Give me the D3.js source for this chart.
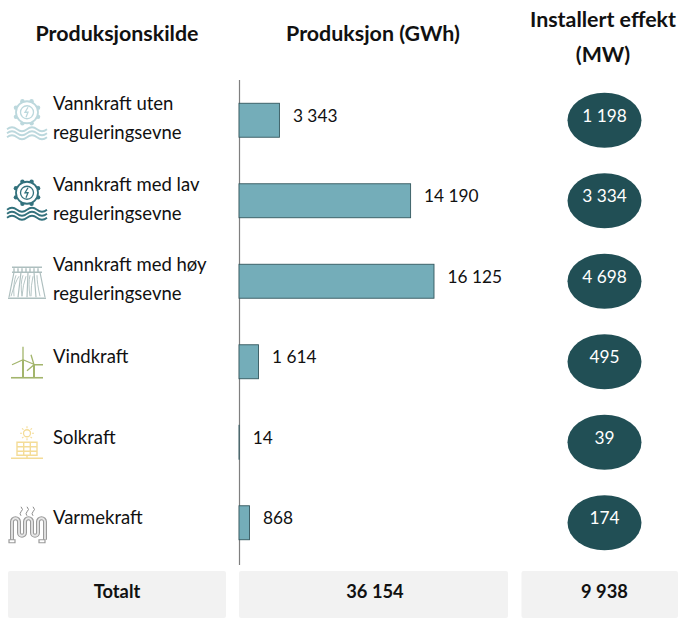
<!DOCTYPE html>
<html>
<head>
<meta charset="utf-8">
<script src="https://cdn.jsdelivr.net/npm/d3@7"></script>
<style>
  html, body { margin: 0; padding: 0; background: #fff; }
  svg { display: block; }
  text { font-family: Lato, "Open Sans", sans-serif; fill: #111; }
  .head { font-size: 21.4px; font-weight: 700; text-anchor: middle; }
  .lab { font-size: 17.3px; }
  .name { font-size: 18.5px; }
  .total { font-size: 18.3px; font-weight: 700; text-anchor: middle; }
</style>
</head>
<body>
<svg id="chart" width="678" height="618"></svg>
<script>
const sources = ["hydroLow", "hydroMed", "hydroHigh", "wind", "solar", "thermal"];
const sourceLines = [
  ["Vannkraft uten", "reguleringsevne"],
  ["Vannkraft med lav", "reguleringsevne"],
  ["Vannkraft med høy", "reguleringsevne"],
  ["Vindkraft"],
  ["Solkraft"],
  ["Varmekraft"]
];
const production = [3343, 14190, 16125, 1614, 14, 868];
const capacity = [1198, 3334, 4698, 495, 39, 174];
const totals = ["Totalt", "36 154", "9 938"];

const svg = d3.select("#chart");

const fmt = d => d3.format(",")(d).replace(/,/g, " ");

const y = d3.scaleBand()
            .domain(sources)
            .range([80, 563])
            .paddingInner(0.578)
            .paddingOuter(0.289);

const x = d3.scaleLinear()
            .domain([0, 16125])
            .range([239, 434]);

function waves(g, color, ys) {
  ys.forEach(v => {
    g.append("path")
        .attr("d", "M-20," + v + " q5,-4 10,0 t10,0 t10,0 t10,0")
        .attr("stroke", color)
        .attr("stroke-width", 1.7);
  });
}

function gear(g, color, cy) {
  for (let a = 0; a < 8; a++) {
    const t = a * Math.PI / 4 + Math.PI / 8;
    g.append("circle")
        .attr("cx", 12 * Math.cos(t))
        .attr("cy", cy + 12 * Math.sin(t))
        .attr("r", 2.2)
        .attr("fill", color);
  }
  g.append("circle").attr("cy", cy).attr("r", 11).attr("stroke", color).attr("stroke-width", 1.8).attr("fill", "#fff");
  g.append("circle").attr("cy", cy).attr("r", 6.5).attr("stroke", color).attr("stroke-width", 1.3);
  g.append("path")
      .attr("d", "M1," + (cy - 5) + " l-3,5 h3 l-2,5")
      .attr("stroke", color)
      .attr("stroke-width", 1.3);
}

function hydro(color) {
  return g => {
    gear(g, color, -8);
    waves(g, color, [9, 13, 17]);
  };
}

const icons = {
  hydroLow: hydro("#bcd8dd"),
  hydroMed: hydro("#33727d"),
  hydroHigh: g => {
    const c = "#aebfbf";
    g.append("path").attr("d", "M-15,-14 h30 M-15,-9 h30 M-13,-13 v4 M-9,-13 v4 M-5,-13 v4 M-1,-13 v4 M3,-13 v4 M7,-13 v4 M11,-13 v4 M-19,17 h38")
        .attr("stroke", c).attr("stroke-width", 1.4);
    g.append("path").attr("d", "M-13,-9 L-18,16 M13,-9 L18,16 M-6,-9 L-9,16 M1,-9 L0,16 M7,-9 L9,16")
        .attr("stroke", c).attr("stroke-width", 1.2);
    g.append("path").attr("d", "M-11,-6 q-3,8 -2,21 M-8,-5 q-4,6 -8,20 M-4,-6 q-3,8 -1,21 M-1,-5 q-3,8 -4,20 M3,-6 q-2,8 0,21 M6,-5 q-2,8 -2,20 M10,-6 q0,8 3,21")
        .attr("stroke", c).attr("stroke-width", 0.9);
  },
  wind: g => {
    const c = "#a3b56c";
    g.append("path").attr("d", "M-16,16 h32").attr("stroke", c).attr("stroke-width", 1.6);
    g.append("path").attr("d", "M-4,16 V-2 M7,16 V3").attr("stroke", c).attr("stroke-width", 2);
    g.append("path").attr("d", "M-4,-2 L-4,-15 M-4,-2 L-15,3 M-4,-2 L8,3 M7,3 L4,-7 M7,3 L0,9 M7,3 L16,3")
        .attr("stroke", c).attr("stroke-width", 1.3);
  },
  solar: g => {
    const c = "#f4dc97";
    g.append("circle").attr("cy", -9).attr("r", 3.5).attr("stroke", c).attr("stroke-width", 1.3);
    for (let a = 0; a < 8; a++) {
      const t = a * Math.PI / 4;
      g.append("line")
          .attr("x1", 5 * Math.cos(t)).attr("y1", -9 + 5 * Math.sin(t))
          .attr("x2", 7 * Math.cos(t)).attr("y2", -9 + 7 * Math.sin(t))
          .attr("stroke", c).attr("stroke-width", 1.1);
    }
    g.append("path").attr("d", "M-10,0 H10 V13 H-10 Z M-10,4.5 H10 M-10,9 H10 M-3.3,0 V13 M3.3,0 V13 M0,13 V16 M-16,16 H16")
        .attr("stroke", c).attr("stroke-width", 1.4);
  },
  thermal: g => {
    const coil = "M-15,17 V-1 a3.5,3.5 0 0 1 7,0 V10 a3,3 0 0 0 6,0 V-1 a3.5,3.5 0 0 1 7,0 V10 a3,3 0 0 0 6,0 V-1 a3.5,3.5 0 0 1 7,0 V17";
    g.append("path").attr("d", coil).attr("stroke", "#9a9a9a").attr("stroke-width", 4);
    g.append("path").attr("d", coil).attr("stroke", "#e6e6e6").attr("stroke-width", 1.8);
    g.append("path").attr("d", "M-18,17 h6 v3 h-6 Z M12,17 h6 v3 h-6 Z").attr("stroke", "#9a9a9a").attr("stroke-width", 1.2);
    g.append("path").attr("d", "M-6,-16 q3,3 0,5 q-2,2 0,4 M0,-16 q3,3 0,5 q-2,2 0,4 M6,-16 q3,3 0,5 q-2,2 0,4")
        .attr("stroke", "#8c8c8c").attr("stroke-width", 1);
  }
};

// headers
svg.append("text").attr("class", "head").attr("x", 117).attr("y", 41).text("Produksjonskilde");
svg.append("text").attr("class", "head").attr("x", 373).attr("y", 41).text("Produksjon (GWh)");
svg.append("text").attr("class", "head").attr("x", 603).attr("y", 27).text("Installert effekt");
svg.append("text").attr("class", "head").attr("x", 603).attr("y", 62).text("(MW)");

// axis line goes under the bars so the tiny solar bar still shows
svg.append("line")
    .attr("x1", 239.5).attr("x2", 239.5)
    .attr("y1", 80).attr("y2", 565)
    .attr("stroke", "#7f7f7f")
    .attr("stroke-width", 1.2);

// bars
svg.selectAll(".bar")
  .data(production)
  .enter()
  .append("rect")
    .classed("bar", true)
    .attr("x", x(0))
    .attr("y", (d, i) => y(sources[i]))
    .attr("width", d => x(d) - x(0))
    .attr("height", y.bandwidth())
    .attr("fill", "#74adb9")
    .attr("stroke", "#33575e")
    .attr("stroke-width", 0.9);

svg.selectAll(".bar-label")
  .data(production)
  .enter()
  .append("text")
    .classed("lab bar-label", true)
    .attr("x", d => x(d) + 13.5)
    .attr("y", (d, i) => y(sources[i]) + y.bandwidth() / 2 + 1.5)
    .text(fmt);

// capacity bubbles
svg.selectAll(".bubble")
  .data(capacity)
  .enter()
  .append("ellipse")
    .classed("bubble", true)
    .attr("cx", 604.5)
    .attr("cy", (d, i) => y(sources[i]) + y.bandwidth() / 2)
    .attr("rx", 37)
    .attr("ry", 27.5)
    .attr("fill", "#214f55");

svg.selectAll(".bubble-label")
  .data(capacity)
  .enter()
  .append("text")
    .classed("lab bubble-label", true)
    .attr("x", 604.5)
    .attr("y", (d, i) => y(sources[i]) + y.bandwidth() / 2 + 1.5)
    .style("text-anchor", "middle")
    .style("fill", "#fff")
    .text(fmt);

// source names
sourceLines.forEach((lines, i) => {
  const cy = y(sources[i]) + y.bandwidth() / 2;
  const top = lines.length > 1 ? cy - 10 : cy + 1.5;
  lines.forEach((s, j) => {
    svg.append("text")
        .attr("class", "name")
        .attr("x", 53)
        .attr("y", top + j * 29)
        .text(s);
  });
  const g = svg.append("g")
      .attr("transform", "translate(27," + cy + ")")
      .attr("fill", "none");
  icons[sources[i]](g);
});

// totals row
const boxes = [[8, 218], [239, 269], [521.5, 156.5]];
boxes.forEach((b, i) => {
  svg.append("rect")
      .attr("x", b[0]).attr("y", 571)
      .attr("width", b[1]).attr("height", 47)
      .attr("rx", 2)
      .attr("fill", "#f2f2f2");
  svg.append("text")
      .attr("class", "total")
      .attr("x", [117, 375, 604.5][i])
      .attr("y", 598)
      .text(totals[i]);
});
</script>
</body>
</html>
